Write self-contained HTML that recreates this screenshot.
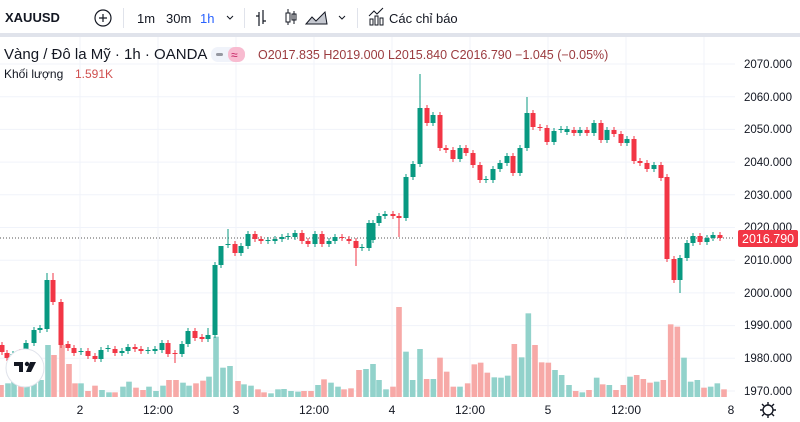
<!DOCTYPE html>
<html><head><meta charset="utf-8">
<style>
html,body{margin:0;padding:0;width:800px;height:422px;overflow:hidden;background:#fff;font-family:"Liberation Sans","DejaVu Sans",sans-serif;}
svg{display:block}
</style></head><body>
<svg id="s" width="800" height="422" viewBox="0 0 800 422" xmlns="http://www.w3.org/2000/svg">
<rect x="0" y="0" width="800" height="422" fill="#fff"/>
<rect x="0" y="33" width="800" height="4" fill="#e0e3eb"/>
<text x="5" y="22" font-size="13" font-weight="bold" fill="#131722">XAUUSD</text>
<circle cx="103" cy="18" r="8" fill="none" stroke="#131722" stroke-width="1.2"/>
<path d="M99 18h8M103 14v8" stroke="#131722" stroke-width="1.2"/>
<rect x="123" y="8" width="1" height="20" fill="#e0e3eb"/>
<text x="137" y="23" font-size="13" fill="#131722">1m</text>
<text x="166" y="23" font-size="13" fill="#131722">30m</text>
<text x="200" y="23" font-size="13" fill="#2962ff">1h</text>
<path d="M227 16l3 3 3-3" fill="none" stroke="#131722"/>
<rect x="244" y="8" width="1" height="20" fill="#e0e3eb"/>
<path d="M259 12v14M256 16h3M263 10v14M263 21h3" stroke="#131722" stroke-width="1.2" fill="none"/>
<rect x="286" y="13" width="4" height="9" fill="none" stroke="#131722"/><path d="M288 9v4M288 22v3M294 11v13" stroke="#131722"/><rect x="292" y="14" width="4" height="6" fill="none" stroke="#131722"/>
<path d="M306 24l6-7 4 4 9-9 2 12z" fill="#c5c8d0" stroke="#131722" stroke-width="1"/>
<path d="M339 16l3 3 3-3" fill="none" stroke="#131722"/>
<rect x="357" y="8" width="1" height="20" fill="#e0e3eb"/>
<path d="M369 16l5-5 3 3 6-6" fill="none" stroke="#131722"/><rect x="370" y="19" width="3" height="6" fill="none" stroke="#131722"/><rect x="375" y="16" width="3" height="9" fill="none" stroke="#131722"/><rect x="380" y="18" width="3" height="7" fill="none" stroke="#131722"/>
<text x="389" y="23" font-size="13" fill="#131722">Các chỉ báo</text>
<g stroke="#f0f3fa" stroke-width="1" id="grid"></g>
<text x="4" y="59" font-size="15" fill="#131722">Vàng / Đô la Mỹ · 1h · OANDA</text>
<rect x="211" y="47" width="34" height="15" rx="7" fill="#f0f3fa"/>
<rect x="228" y="47" width="17" height="15" rx="7" fill="#f8bbd0"/>
<rect x="216" y="53" width="7" height="3" rx="1.5" fill="#9598a1"/>
<text x="231" y="59" font-size="12" fill="#c2185b">≈</text>
<text x="258" y="59" font-size="12.5" fill="#9b3b3f">O<tspan>2017.835</tspan> H2019.000 L2015.840 C2016.790 −1.045 (−0.05%)</text>
<text x="4" y="78" font-size="12" fill="#131722">Khối lượng</text>
<text x="75" y="78" font-size="12" fill="#d0504f">1.591K</text>
<g id="vol"></g>
<line x1="0" y1="238" x2="735" y2="238" stroke="#555" stroke-dasharray="1,2" stroke-width="1"/>
<g id="cand"></g>
<g font-size="11.5" fill="#131722">
<text x="744" y="68">2070.000</text>
<text x="744" y="101">2060.000</text>
<text x="744" y="133">2050.000</text>
<text x="744" y="166">2040.000</text>
<text x="744" y="199">2030.000</text>
<text x="744" y="231">2020.000</text>
<text x="744" y="264">2010.000</text>
<text x="744" y="297">2000.000</text>
<text x="744" y="329">1990.000</text>
<text x="744" y="362">1980.000</text>
<text x="744" y="395">1970.000</text>
</g>
<rect x="738" y="230" width="60" height="17" rx="2" fill="#f23645"/>
<text x="742" y="243" font-size="12.5" fill="#fff">2016.790</text>
<g font-size="12" fill="#131722" text-anchor="middle">
<text x="80" y="414">2</text>
<text x="158" y="414">12:00</text>
<text x="236" y="414">3</text>
<text x="314" y="414">12:00</text>
<text x="392" y="414">4</text>
<text x="470" y="414">12:00</text>
<text x="548" y="414">5</text>
<text x="626" y="414">12:00</text>
<text x="731" y="414">8</text>
</g>
<circle cx="768" cy="410" r="5" fill="none" stroke="#131722" stroke-width="1.4"/>
<path d="M768 402v3M768 415v3M760 410h3M773 410h3M762 404l2 2M772 414l2 2M762 416l2-2M772 406l2-2" stroke="#131722" stroke-width="1.4"/>
<circle cx="25" cy="368" r="19" fill="#fff" stroke="#e0e3eb"/>
<path d="M14 362h9v10h-4v-6h-5z" fill="#131722"/><circle cx="27" cy="364" r="2.2" fill="#131722"/><path d="M30 362h6l-5 10h-5z" fill="#131722"/>
</svg>
<script>
var NS="http://www.w3.org/2000/svg";
function el(p,t,a){var e=document.createElementNS(NS,t);for(var k in a)e.setAttribute(k,a[k]);p.appendChild(e);return e;}
var g=document.getElementById('grid');
[80,158,236,314,392,470,548,626,704].forEach(function(x){el(g,'line',{x1:x,y1:37,x2:x,y2:398});});
for(var i=0;i<11;i++){var y=64+i*32.7;el(g,'line',{x1:0,y1:y,x2:735,y2:y});}
var C=[
[2,345,352,'r'],[7,353,358,'r'],[13,354,355,'g'],[20,352,354,'r'],[26,343,353,'g'],[34,330,343,'g'],[40,328,330,'g'],
[47,280,329,'g',273],[53,280,302,'r',273],[61,302,345,'r'],[68,344,348,'r'],[74,348,353,'r'],[81,351,352,'g'],[88,351,356,'r'],
[95,356,359,'r'],[101,350,359,'g'],[108,348,349,'g'],[115,349,353,'r'],[122,351,353,'g'],[128,347,351,'g'],[135,347,349,'r'],
[141,349,351,'r'],[148,350,351,'g'],[155,349,351,'g'],[162,343,350,'g'],[168,343,354,'r'],[175,353,354,'r',null,363],[182,344,354,'g'],
[188,331,344,'g'],[195,331,338,'r'],[202,337,339,'r'],[208,335,339,'g',328],[215,265,335,'g'],[221,246,265,'g',250],[228,244,245,'g',229],
[235,244,253,'r'],[241,246,253,'g'],[248,234,246,'g'],[255,234,239,'r'],[261,239,241,'r'],[268,240,241,'g'],[275,239,241,'g'],
[282,237,239,'g'],[288,236,237,'g'],[295,233,237,'g'],[302,233,241,'r'],[308,241,244,'r'],[315,234,244,'g'],[322,234,244,'r'],
[329,241,244,'g'],[335,237,241,'g'],[342,237,238,'r'],[349,239,241,'r'],[356,241,248,'r',null,266],[362,247,248,'g'],[369,223,248,'g'],
[373,223,240,'g'],[379,216,223,'g'],[385,214,216,'g'],[393,214,216,'r'],[399,216,218,'r',null,237],[406,177,218,'g'],[413,164,177,'g'],
[420,108,164,'g',74],[427,108,123,'r'],[433,115,123,'g'],[440,115,148,'r'],[446,148,150,'r'],[453,150,159,'r'],[460,148,159,'g'],
[466,148,153,'r'],[473,153,165,'r'],[480,165,180,'r'],[486,179,180,'g'],[493,169,180,'g'],[500,163,169,'g'],[507,156,163,'g'],
[513,156,173,'r'],[520,148,173,'g'],[527,113,148,'g',97],[533,113,127,'r'],[540,127,128,'r'],[547,128,142,'r'],[554,131,142,'g'],
[561,129,130,'g'],[567,129,132,'g'],[574,130,133,'r'],[580,130,133,'g'],[587,130,133,'r'],[594,123,133,'g'],[601,123,140,'r'],
[607,130,140,'g'],[614,130,134,'r'],[621,134,143,'r'],[627,139,143,'g'],[634,139,161,'r'],[640,161,163,'r'],[647,163,169,'r'],
[654,165,169,'g'],[661,165,178,'r'],[667,177,259,'r'],[674,259,280,'r'],[680,258,280,'g',null,293],[687,243,258,'g'],[693,236,243,'g'],
[700,236,242,'r'],[707,238,242,'g'],[713,235,238,'g'],[720,235,238,'r']
];
var cg=document.getElementById('cand');
C.forEach(function(c){var col=c[3]=='g'?'#089981':'#f23645';var hi=c[4]||c[1]-3,lo=c[5]||c[2]+3;
el(cg,'line',{x1:c[0],y1:hi,x2:c[0],y2:lo,stroke:col,'stroke-width':1});
el(cg,'rect',{x:c[0]-2.5,y:c[1],width:5,height:Math.max(1,c[2]-c[1]),fill:col});});
var V2=[[0,495,'r'],[7,490,'g'],[13,475,'g'],[20,480,'r'],[26,490,'g'],[33,480,'g'],[40,480,'g'],[47,375,'g'],[53,405,'r'],[61,375,'r'],[68,432,'r'],[74,490,'r'],[80,490,'g'],[87,513,'r'],[94,497,'r'],[101,510,'g'],[108,517,'g'],[114,517,'r'],[122,500,'g'],[128,485,'g'],[135,503,'r'],[142,510,'r'],[148,500,'g'],[155,513,'g'],[162,497,'g'],[168,480,'r'],[175,480,'r'],[182,488,'g'],[188,497,'g'],[195,490,'r'],[202,482,'r'],[208,470,'g'],[215,350,'g'],[222,443,'g'],[229,438,'g'],[237,483,'r'],[243,493,'g'],[250,497,'g'],[257,508,'r'],[263,517,'r'],[270,520,'g'],[277,508,'g'],[283,507,'g'],[290,513,'g'],[297,515,'g'],[303,513,'r'],[310,513,'r'],[317,495,'g'],[323,478,'r'],[330,488,'g'],[337,500,'g'],[343,508,'r'],[350,505,'r'],[358,450,'r'],[365,447,'g'],[372,432,'g'],[378,480,'g'],[385,508,'g'],[392,500,'r']];
var vg=document.getElementById('vol');
function bar(x,top,c){el(vg,'rect',{x:x-2.8,y:top,width:5.6,height:397-top,fill:c=='g'?'#92d2cb':'#f7a9a7'});}
V2.forEach(function(v){bar(v[0]+1,220+v[1]/3,v[2]);});
bar(399,307,'r');
var V3=[[18,815,'g'],[38,900,'g'],[60,807,'g'],[80,897,'r'],[100,897,'g'],[120,833,'r'],[140,875,'r'],[160,920,'r'],[180,920,'g'],[203,910,'r'],[223,853,'r'],[242,848,'r'],[262,878,'r'],[283,892,'g'],[303,893,'g'],[323,887,'g'],[343,792,'r'],[365,832,'g'],[385,700,'g'],[405,795,'r'],[425,847,'r'],[445,848,'r'],[465,870,'g'],[485,885,'g'],[507,915,'g'],[527,933,'r'],[547,937,'g'],[567,930,'r'],[590,893,'g'],[608,913,'r'],[628,915,'g'],[648,930,'r'],[670,915,'r'],[690,890,'g'],[710,885,'r'],[730,897,'r'],[750,908,'r'],[770,905,'g'],[790,900,'r'],[812,733,'r'],[832,740,'r'],[852,833,'g'],[872,905,'g'],[892,900,'g'],[912,923,'r'],[932,920,'g'],[952,910,'g'],[972,928,'r']];
V3.forEach(function(v){bar(400+v[0]/3,80+v[1]/3,v[2]);});
</script>
</body></html>
